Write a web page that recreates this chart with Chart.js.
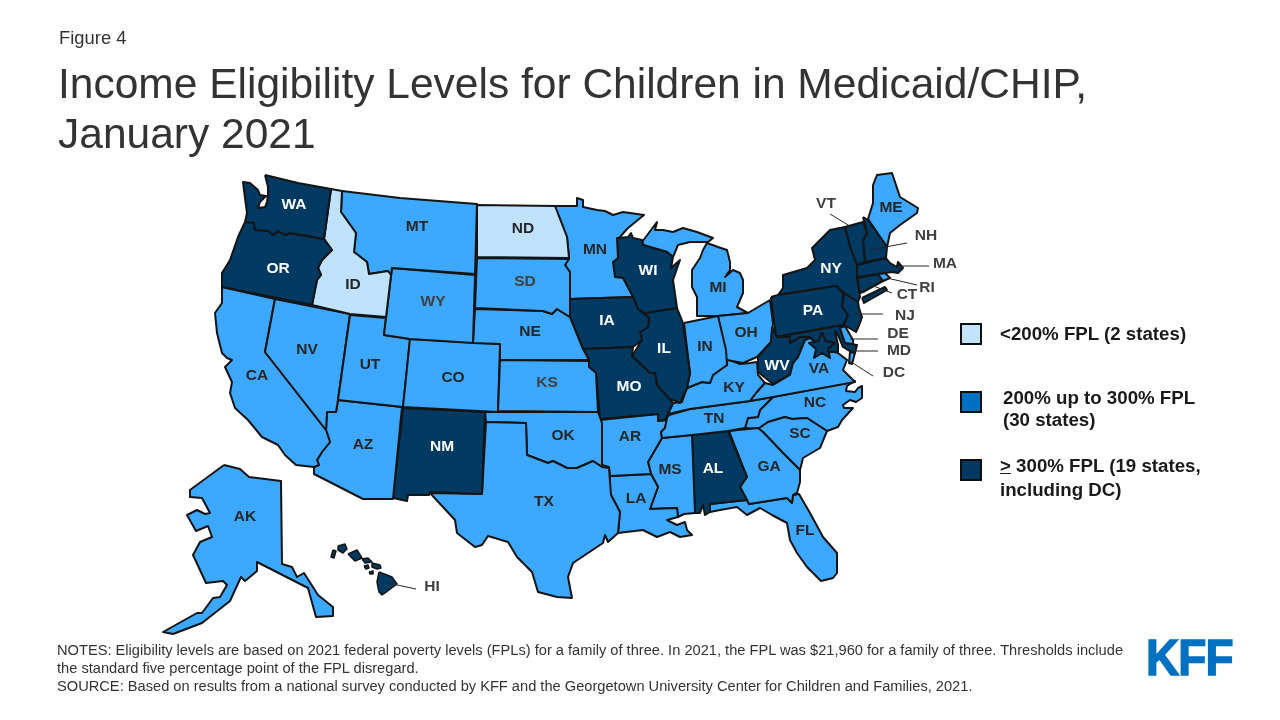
<!DOCTYPE html>
<html>
<head>
<meta charset="utf-8">
<title>Income Eligibility Levels for Children in Medicaid/CHIP, January 2021</title>
<script src="https://cdn.jsdelivr.net/npm/chart.js@4"></script>
<style>
  body { margin: 0; background: #fff; font-family: "Liberation Sans", Arial, sans-serif; }
  #stage { position: relative; width: 1280px; height: 720px; overflow: hidden; }
  #map { position: absolute; left: 0; top: 0; }
  .t { position: absolute; white-space: nowrap; }
  .head { color: #333; font-size: 42.5px; line-height: 50px; left: 58px; }
  .note { color: #333; font-size: 14.65px; line-height: 17px; left: 57px; }
  .leg { color: #1a1a1a; font-size: 18.7px; font-weight: bold; line-height: 24px; }
  .swatch { position: absolute; left: 960px; width: 18px; height: 18px; border: 2px solid #0d0d0d; }
  #logo { left: 1146px; top: 630px; color: #0070c0; font: bold 50px/56px "Liberation Sans", sans-serif; -webkit-text-stroke: 1.5px #0070c0; letter-spacing: -1px; transform-origin: left top; transform: scaleX(0.92); }
</style>
</head>
<body>
<div id="stage">
  <canvas id="map" width="1280" height="720"></canvas>
  <div class="t" style="left:59px;top:28px;font-size:18.4px;line-height:20px;color:#333">Figure 4</div>
  <div class="t head" style="top:59px">Income Eligibility Levels for Children in Medicaid/CHIP,</div>
  <div class="t head" style="top:109px">January 2021</div>

  <div class="swatch" style="top:323px;background:#c2e4ff"></div>
  <div class="t leg" style="left:1000px;top:322px">&lt;200% FPL (2 states)</div>
  <div class="swatch" style="top:391px;background:#0070c0"></div>
  <div class="t leg" style="left:1003px;top:386px">200% up to 300% FPL</div>
  <div class="t leg" style="left:1003px;top:408px">(30 states)</div>
  <div class="swatch" style="top:459px;background:#003a63"></div>
  <div class="t leg" style="left:1000px;top:454px"><u>&gt;</u> 300% FPL (19 states,</div>
  <div class="t leg" style="left:1000px;top:478px">including DC)</div>

  <div class="t note" style="top:642px">NOTES: Eligibility levels are based on 2021 federal poverty levels (FPLs) for a family of three. In 2021, the FPL was $21,960 for a family of three. Thresholds include</div>
  <div class="t note" style="top:660px">the standard five percentage point of the FPL disregard.</div>
  <div class="t note" style="top:678px">SOURCE: Based on results from a national survey conducted by KFF and the Georgetown University Center for Children and Families, 2021.</div>
  <div class="t" id="logo">KFF</div>
</div>
<script>
// income tiers
const below200 = ["ID", "ND"];
const from200to300 = ["AK", "AZ", "AR", "CA", "CO", "DE", "FL", "GA", "IN", "KS", "KY", "LA", "ME", "MI", "MN", "MS", "MT", "NE", "NV", "NC", "OH", "OK", "RI", "SC", "SD", "TN", "TX", "UT", "VA", "WY"];
const above300 = ["AL", "CT", "DC", "HI", "IL", "IA", "MD", "MA", "MO", "NH", "NJ", "NM", "NY", "OR", "PA", "VT", "WA", "WV", "WI"];

// state outlines, in map units
const shapeWA = [[265,175],[298,183],[331,189],[324,239],[290,233],[285,235],[278,231],[273,235],[268,231],[255,230],[254,223],[245,222],[247,213],[245,198],[243,182],[250,183],[258,190],[260,195],[266,196],[260,202],[258,208],[265,207],[267,202],[268,195],[268,187]];
const shapeOR = [[245,222],[254,223],[255,230],[268,231],[273,235],[278,231],[285,235],[290,233],[324,239],[332,250],[322,260],[318,268],[321,275],[317,280],[312,305],[222,287],[222,273],[230,260],[238,237]];
const shapeID = [[331,189],[342,191],[341,212],[356,233],[354,252],[367,262],[369,274],[388,271],[391,275],[386,317],[350,314],[312,305],[317,280],[321,275],[318,268],[322,260],[332,250],[324,239]];
const shapeMT = [[342,191],[400,198],[477,204],[475,274],[392,268],[391,275],[388,271],[369,274],[367,262],[354,252],[356,233],[341,212]];
const shapeWY = [[392,268],[475,275],[473,343],[410,339],[384,335]];
const shapeND = [[477,205],[555,206],[567,237],[569,258],[477,257]];
const shapeSD = [[477,258],[569,259],[565,265],[570,272],[570,317],[557,309],[552,314],[543,311],[475,308]];
const shapeNE = [[475,309],[543,311],[552,314],[557,309],[570,317],[583,349],[589,360],[500,360],[500,344],[473,343]];
const shapeKS = [[500,360],[589,361],[589,367],[596,373],[598,412],[498,411]];
const shapeCO = [[410,339],[500,344],[498,412],[403,407]];
const shapeUT = [[350,315],[386,318],[384,335],[410,339],[403,407],[338,400]];
const shapeNV = [[275,299],[350,314],[338,400],[336,412],[327,412],[326,430],[265,352]];
const shapeCA = [[222,287],[275,299],[265,352],[326,430],[330,442],[322,452],[317,460],[319,465],[314,467],[296,465],[285,455],[278,445],[262,437],[248,420],[235,408],[230,393],[232,382],[225,367],[232,360],[227,358],[222,353],[217,333],[215,313],[222,303]];
const shapeAZ = [[338,400],[402,407],[393,499],[363,499],[314,474],[314,467],[319,465],[317,460],[322,452],[330,442],[326,430],[327,412],[336,412]];
const shapeNM = [[403,408],[485,412],[482,494],[430,492],[429,495],[408,495],[407,501],[393,498]];
const shapeTX = [[486,422],[526,423],[527,455],[548,463],[553,461],[567,468],[577,468],[593,461],[602,467],[609,468],[611,495],[620,512],[618,533],[608,542],[605,535],[603,543],[573,563],[568,577],[572,598],[557,597],[538,592],[532,572],[517,557],[508,542],[488,536],[482,545],[475,547],[457,533],[455,520],[430,493],[482,494]];
const shapeOK = [[485,412],[598,412],[602,423],[602,467],[593,461],[577,468],[567,468],[553,461],[548,463],[527,455],[526,423],[486,422]];
const shapeMO = [[583,349],[633,347],[632,356],[650,373],[655,373],[657,385],[673,403],[665,420],[658,421],[658,414],[600,419],[596,373],[589,367],[589,360]];
const shapeIA = [[570,299],[633,297],[638,309],[649,318],[648,327],[640,332],[642,340],[633,347],[583,349],[570,317],[568,307]];
const shapeMN = [[555,206],[577,206],[577,198],[583,200],[583,207],[597,210],[605,211],[613,215],[623,212],[644,215],[628,228],[619,238],[617,238],[618,258],[613,262],[615,277],[623,278],[633,297],[570,299],[570,272],[565,265],[569,258],[567,237]];
const shapeWI = [[617,238],[628,237],[631,233],[633,238],[642,240],[643,245],[667,252],[673,257],[671,268],[680,260],[673,280],[677,308],[645,313],[638,309],[633,297],[623,278],[615,277],[613,262],[618,258]];
const shapeIL = [[645,313],[677,308],[683,323],[690,373],[687,388],[680,403],[673,400],[667,399],[657,385],[655,373],[650,373],[632,356],[642,340],[640,332],[648,327],[649,318]];
const shapeIN = [[684,323],[718,316],[726,350],[727,365],[713,375],[710,383],[702,382],[687,388],[690,373]];
const shapeOH = [[718,316],[748,313],[770,300],[773,323],[771,342],[757,357],[743,363],[727,360],[727,365]];
const shapeMI = [[707,243],[718,247],[727,250],[730,262],[730,270],[725,277],[733,270],[740,273],[743,280],[743,293],[737,307],[748,313],[718,316],[697,316],[697,297],[692,287],[692,270],[700,258],[703,250]];
const shapeMIupper = [[642,242],[657,222],[655,230],[663,230],[673,232],[683,228],[697,232],[713,238],[708,242],[690,242],[678,245],[673,257],[667,252],[643,245]];
const shapeKY = [[668,414],[690,409],[750,401],[757,392],[765,383],[758,375],[757,362],[750,363],[740,364],[727,359],[727,365],[713,375],[710,383],[702,382],[687,388],[682,402],[673,403]];
const shapeTN = [[669,415],[690,409],[750,401],[773,397],[760,410],[758,417],[748,418],[745,428],[728,431],[692,435],[662,438],[661,432],[665,428],[667,418]];
const shapeAR = [[600,420],[658,414],[658,421],[667,420],[665,428],[661,432],[662,438],[648,462],[651,474],[610,476],[609,467],[602,465]];
const shapeLA = [[610,476],[651,474],[658,487],[650,509],[677,508],[678,517],[667,520],[677,525],[685,522],[687,530],[692,535],[680,537],[670,532],[657,537],[643,530],[618,533],[620,512],[610,493]];
const shapeMS = [[662,438],[692,435],[695,513],[684,514],[678,517],[677,508],[650,509],[658,487],[651,474],[648,462]];
const shapeAL = [[692,435],[728,431],[747,477],[740,487],[747,500],[710,504],[710,512],[705,515],[703,505],[700,513],[695,513]];
const shapeGA = [[729,431],[758,428],[763,432],[783,453],[800,470],[800,482],[797,493],[793,495],[792,503],[787,498],[749,504],[747,500],[740,487],[747,477]];
const shapeFL = [[710,504],[747,500],[749,504],[787,498],[792,503],[793,495],[799,494],[810,513],[823,537],[837,553],[837,573],[833,578],[821,581],[807,567],[797,553],[790,540],[787,523],[772,515],[760,508],[747,515],[737,507],[720,510],[710,512]];
const shapeSC = [[758,429],[768,422],[785,417],[792,419],[807,418],[827,431],[820,448],[803,458],[800,470],[783,453],[763,432]];
const shapeNC = [[773,397],[855,381],[847,386],[846,391],[855,392],[858,388],[862,386],[862,398],[856,402],[850,400],[843,405],[844,408],[853,408],[842,420],[838,427],[827,431],[807,418],[792,419],[785,417],[768,422],[758,429],[745,428],[748,418],[758,417],[760,410]];
const shapeVA = [[750,401],[757,392],[765,383],[773,385],[790,375],[793,363],[798,357],[805,340],[810,338],[822,347],[828,350],[838,353],[847,360],[843,370],[853,380],[855,382],[773,397]];
const shapeVAshore = [[855,353],[852,364],[849,363],[850,352]];
const shapeWV = [[772,327],[777,337],[790,337],[790,343],[800,337],[810,337],[805,340],[798,357],[793,363],[790,375],[773,384],[758,372],[758,357],[771,342]];
const shapePA = [[771,297],[778,295],[836,286],[843,293],[842,307],[848,315],[843,325],[776,337]];
const shapeNY = [[778,295],[783,288],[783,275],[807,268],[815,260],[812,248],[830,230],[845,227],[850,247],[857,265],[857,278],[860,297],[858,302],[844,293],[836,286]];
const shapeLongIsland = [[862,298],[885,287],[887,290],[864,303]];
const shapeVT = [[845,227],[863,222],[867,233],[863,240],[865,262],[857,265],[850,247]];
const shapeNH = [[863,217],[868,220],[887,247],[886,258],[865,262],[863,240],[867,233]];
const shapeME = [[868,219],[873,203],[873,185],[877,175],[892,173],[900,197],[918,208],[917,213],[900,225],[890,233],[887,247]];
const shapeMA = [[857,265],[886,258],[890,263],[897,267],[898,262],[903,268],[898,273],[892,272],[885,273],[857,277]];
const shapeRI = [[878,274],[885,273],[890,278],[883,281]];
const shapeCT = [[857,278],[878,274],[883,281],[863,292],[860,293]];
const shapeNJ = [[844,293],[858,302],[859,308],[862,317],[860,323],[856,332],[844,325],[848,315],[842,307]];
const shapeDE = [[840,328],[845,326],[853,340],[853,344],[845,343]];
const shapeMD = [[777,337],[843,325],[840,328],[845,343],[857,345],[855,353],[848,350],[843,347],[838,335],[835,331],[838,345],[838,352],[828,352],[828,348],[815,342],[810,337],[800,337],[790,343],[790,337]];
const shapeDC = [[822,332],[825.5,341],[835,343],[828,349],[830,358],[822,353],[814,358],[816,349],[809,343],[818.5,341]];
const shapeAK = [[224,465],[240,469],[249,477],[281,481],[282,564],[292,567],[297,577],[304,573],[318,595],[333,607],[333,616],[316,617],[308,588],[257,562],[257,571],[245,581],[241,577],[230,601],[202,623],[173,634],[163,632],[197,613],[202,613],[213,598],[220,597],[227,585],[223,581],[206,583],[193,555],[200,542],[212,537],[208,526],[196,531],[187,515],[197,510],[205,514],[210,513],[202,498],[190,497],[190,490]];
const shapeHI = [[379,572],[392,577],[397,584],[385,593],[382,595],[379,592],[377,582]];
const shapeMaui = [[372,563],[380,565],[381,568],[377,569],[372,567]];
const shapeMolokai = [[362,559],[368,558],[372,562],[365,563]];
const shapeOahu = [[348,554],[357,550],[362,558],[355,561]];
const shapeKauai = [[338,546],[345,544],[347,549],[343,553],[338,550]];
const shapeNiihau = [[333,550],[336,551],[334,558],[331,557]];
const shapeLanai = [[364,566],[368,565],[369,568],[366,569]];
const shapeKahoolawe = [[369,572],[373,571],[373,574],[370,574]];

// code + outline, first one ends up on top
const shapeList = [
  ["DC", shapeDC], ["DE", shapeDE], ["MD", shapeMD], ["VA", shapeVAshore], ["VA", shapeVA], ["WV", shapeWV], ["PA", shapePA], ["NY", shapeNY], ["NY", shapeLongIsland],
  ["VT", shapeVT], ["NH", shapeNH], ["ME", shapeME], ["MA", shapeMA], ["RI", shapeRI], ["CT", shapeCT], ["NJ", shapeNJ],
  ["WA", shapeWA], ["OR", shapeOR], ["ID", shapeID], ["MT", shapeMT], ["WY", shapeWY], ["ND", shapeND], ["SD", shapeSD], ["NE", shapeNE], ["KS", shapeKS], ["CO", shapeCO],
  ["UT", shapeUT], ["NV", shapeNV], ["CA", shapeCA], ["AZ", shapeAZ], ["NM", shapeNM], ["TX", shapeTX], ["OK", shapeOK], ["MO", shapeMO], ["IA", shapeIA], ["MN", shapeMN],
  ["WI", shapeWI], ["IL", shapeIL], ["IN", shapeIN], ["OH", shapeOH], ["MI", shapeMI], ["MI", shapeMIupper], ["KY", shapeKY], ["TN", shapeTN], ["AR", shapeAR], ["LA", shapeLA],
  ["MS", shapeMS], ["AL", shapeAL], ["GA", shapeGA], ["FL", shapeFL], ["SC", shapeSC], ["NC", shapeNC], ["AK", shapeAK],
  ["HI", shapeHI], ["HI", shapeMaui], ["HI", shapeMolokai], ["HI", shapeOahu], ["HI", shapeKauai], ["HI", shapeNiihau], ["HI", shapeLanai], ["HI", shapeKahoolawe]
];

// labels
const labelCodes = ["WA","OR","ID","MT","WY","ND","SD","MN","WI","IA","NE","KS","MO","IL","IN","OH","MI","KY","TN","AL","MS","AR","LA","OK","TX","NM","AZ","CO","UT","NV","CA","AK","HI","FL","GA","SC","NC","VA","WV","PA","NY","ME","VT","NH","MA","RI","CT","NJ","DE","MD","DC"];
const labelX = [294,278,353,417,433,523,525,595,648,607,530,547,629,664,705,746,718,734,714,713,670,630,636,563,544,442,363,453,370,307,257,245,432,805,769,800,815,819,777,813,831,891,826,926,945,927,907,905,898,899,894];
const labelY = [205,269,285,227,302,229,282,250,271,321,332,383,387,349,347,333,288,388,419,469,470,437,499,436,502,447,445,378,365,350,376,517,587,531,467,434,403,369,366,311,269,208,204,236,264,288,295,316,334,351,373];
const calloutCodes = ["HI","VT","NH","MA","RI","CT","NJ","DE","MD","DC"];
const greyCodes = ["SD","KS","WY"];
const thinCodes = ["HI"];

// leader lines from callout labels to states
const leaderLines = [
  [[830,214],[853,228]], [[869,250],[907,243]], [[900,266],[929,266]], [[887,278],[917,285]], [[868,284],[892,293]],
  [[854,314],[883,314]], [[850,339],[878,339]], [[850,351],[878,351]], [[845,358],[873,376]], [[388,583],[416,589]]
];

const tierColor = code => {
  if (below200.includes(code)) return "#bfe3ff";
  if (above300.includes(code)) return "#003a63";
  return "#3ca8ff";
};
const toPoints = ring => ring.map(p => ({ x: p[0], y: p[1] }));

const datasets = shapeList.map(s => ({
  label: s[0],
  data: toPoints(s[1].concat([s[1][0]])),
  backgroundColor: tierColor(s[0]),
  borderColor: "#141414",
  borderWidth: thinCodes.includes(s[0]) ? 1.5 : 2,
  borderJoinStyle: "round",
  showLine: true,
  pointRadius: 0,
  polygon: true,
  clip: false
}));
leaderLines.forEach(l => {
  datasets.unshift({
    label: "leader",
    data: toPoints(l),
    borderColor: "#262626",
    borderWidth: 1,
    showLine: true,
    pointRadius: 0,
    clip: false
  });
});

// Chart.js can only fill down to a baseline, so close the outlines here
const polygonFill = {
  id: "polygonFill",
  beforeDatasetDraw(chart, args) {
    const ds = chart.data.datasets[args.index];
    if (!ds.polygon) return;
    const ctx = chart.ctx;
    ctx.save();
    ctx.beginPath();
    args.meta.data.forEach((pt, i) => {
      if (i === 0) ctx.moveTo(pt.x, pt.y);
      else ctx.lineTo(pt.x, pt.y);
    });
    ctx.closePath();
    ctx.fillStyle = ds.backgroundColor;
    ctx.fill();
    ctx.restore();
  }
};

const stateLabels = {
  id: "stateLabels",
  afterDatasetsDraw(chart) {
    const ctx = chart.ctx;
    ctx.save();
    ctx.font = "bold 15.5px 'Liberation Sans', Arial, sans-serif";
    ctx.textAlign = "center";
    ctx.textBaseline = "middle";
    labelCodes.forEach((code, i) => {
      let color = "#262626";
      if (above300.includes(code)) color = "#fff";
      if (greyCodes.includes(code)) color = "#404040";
      if (calloutCodes.includes(code)) color = "#404040";
      ctx.fillStyle = color;
      ctx.fillText(code, chart.scales.x.getPixelForValue(labelX[i]), chart.scales.y.getPixelForValue(labelY[i]));
    });
    ctx.restore();
  }
};

new Chart(document.getElementById("map"), {
  type: "scatter",
  data: { datasets: datasets },
  plugins: [polygonFill, stateLabels],
  options: {
    responsive: false,
    animation: false,
    layout: { padding: 0 },
    plugins: { legend: { display: false }, tooltip: { enabled: false } },
    scales: {
      x: { type: "linear", min: 0, max: 1280, display: false },
      y: { type: "linear", min: 0, max: 720, reverse: true, display: false }
    }
  }
});
</script>
</body>
</html>
